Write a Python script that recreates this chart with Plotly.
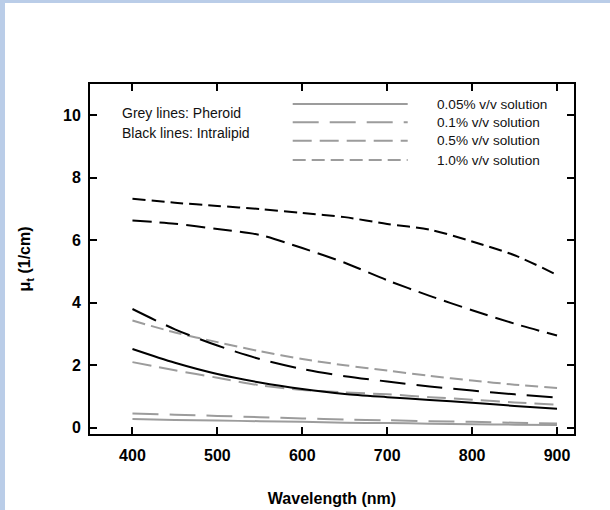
import plotly.graph_objects as go

# ---- data ----
wavelength = [400, 450, 500, 550, 600, 650, 700, 750, 800, 850, 900]

# Intralipid (black lines)
intralipid_005 = [2.52, 2.08, 1.72, 1.45, 1.24, 1.08, 0.98, 0.89, 0.80, 0.70, 0.61]
intralipid_010 = [3.80, 3.15, 2.63, 2.20, 1.88, 1.65, 1.48, 1.32, 1.19, 1.07, 0.97]
intralipid_050 = [6.63, 6.53, 6.36, 6.17, 5.75, 5.28, 4.72, 4.22, 3.76, 3.33, 2.95]
intralipid_100 = [7.33, 7.20, 7.10, 7.00, 6.87, 6.74, 6.52, 6.34, 5.96, 5.52, 4.89]

# Pheroid (grey lines)
pheroid_005 = [0.28, 0.25, 0.23, 0.21, 0.19, 0.16, 0.15, 0.13, 0.11, 0.10, 0.09]
pheroid_010 = [0.46, 0.42, 0.38, 0.34, 0.30, 0.26, 0.24, 0.21, 0.19, 0.16, 0.14]
pheroid_050 = [2.10, 1.84, 1.60, 1.36, 1.21, 1.13, 1.07, 0.98, 0.90, 0.81, 0.74]
pheroid_100 = [3.43, 3.05, 2.74, 2.45, 2.20, 2.00, 1.83, 1.66, 1.51, 1.38, 1.27]

legend_labels = ["0.05% v/v solution", "0.1% v/v solution",
                 "0.5% v/v solution", "1.0% v/v solution"]
x_ticks = [400, 500, 600, 700, 800, 900]
y_ticks = [0, 2, 4, 6, 8, 10]

# ---- styles ----
GREY = "#9c9c9c"
BLACK = "#000000"
DASHES = ["solid", "26px,11px", "19px,8px", "13px,6px"]
FONT = "Arial, Liberation Sans"

fig = go.Figure()

series = [
    (pheroid_005, GREY, 0), (pheroid_010, GREY, 1),
    (pheroid_050, GREY, 2), (pheroid_100, GREY, 3),
    (intralipid_005, BLACK, 0), (intralipid_010, BLACK, 1),
    (intralipid_050, BLACK, 2), (intralipid_100, BLACK, 3),
]
for vals, col, d in series:
    fig.add_trace(go.Scatter(
        x=wavelength, y=vals, mode="lines",
        line=dict(color=col, width=2, dash=DASHES[d], shape="spline", smoothing=0.8),
        showlegend=False, hoverinfo="skip"))

# plot area in pixels: x 90..574, y 84..434
L, R, T, B = 90, 36, 84, 76
W, H = 610, 510
pw, ph = W - L - R, H - T - B


def px(x):
    return (x - L) / pw


def py(y):
    return (H - B - y) / ph


shapes = []
annotations = []
# manual legend
leg_y = [104, 122.3, 140.7, 160]
for i, lab in enumerate(legend_labels):
    shapes.append(dict(type="line", xref="paper", yref="paper",
                       x0=px(292.7), x1=px(407.7), y0=py(leg_y[i]), y1=py(leg_y[i]),
                       line=dict(color=GREY, width=2, dash=DASHES[i])))
    annotations.append(dict(xref="paper", yref="paper", x=px(434.5), y=py(leg_y[i]),
                            xanchor="left", yanchor="middle", text=lab, showarrow=False,
                            font=dict(family=FONT, size=13.6, color="#111")))

annotations.append(dict(xref="paper", yref="paper", x=px(120), y=py(112.7),
                        xanchor="left", yanchor="middle", text="Grey lines: Pheroid",
                        showarrow=False,
                        font=dict(family=FONT, size=14, color="#111")))
annotations.append(dict(xref="paper", yref="paper", x=px(120), y=py(133.3),
                        xanchor="left", yanchor="middle", text="Black lines: Intralipid",
                        showarrow=False,
                        font=dict(family=FONT, size=14, color="#111")))

# light blue frame strips (left and top)
BLUE = "#bacde8"
shapes.append(dict(type="rect", xref="paper", yref="paper", layer="below",
                   x0=px(0), x1=px(5), y0=py(510), y1=py(0),
                   line=dict(width=0), fillcolor=BLUE))
shapes.append(dict(type="rect", xref="paper", yref="paper", layer="below",
                   x0=px(0), x1=px(610), y0=py(3), y1=py(0),
                   line=dict(width=0), fillcolor=BLUE))

tickfont = dict(family=FONT, size=16, color="#000")
axis_common = dict(showline=True, linecolor="#000", linewidth=2, mirror="ticks",
                   ticks="inside", ticklen=7, tickwidth=1.5, tickcolor="#000",
                   showgrid=False, zeroline=False, tickfont=tickfont, automargin=False)

fig.update_layout(
    width=W, height=H,
    margin=dict(l=L, r=R, t=T, b=B, pad=0, autoexpand=False),
    paper_bgcolor="white", plot_bgcolor="white",
    xaxis=dict(range=[350, 920], tickvals=x_ticks,
               ticktext=[f"<b>{v}</b>" for v in x_ticks],
               ticklabelstandoff=6,
               title=dict(text="<b>Wavelength (nm)</b>", standoff=30,
                          font=dict(family=FONT, size=16, color="#000")),
               **axis_common),
    yaxis=dict(range=[-0.2, 11], tickvals=y_ticks,
               ticktext=[f"<b>{v}</b>" for v in y_ticks],
               ticklabelstandoff=4,
               title=dict(text="<b>μ<sub>t</sub> (1/cm)</b>", standoff=28,
                          font=dict(family=FONT, size=16, color="#000")),
               **axis_common),
    shapes=shapes, annotations=annotations,
)

fig.write_html("out.html")
